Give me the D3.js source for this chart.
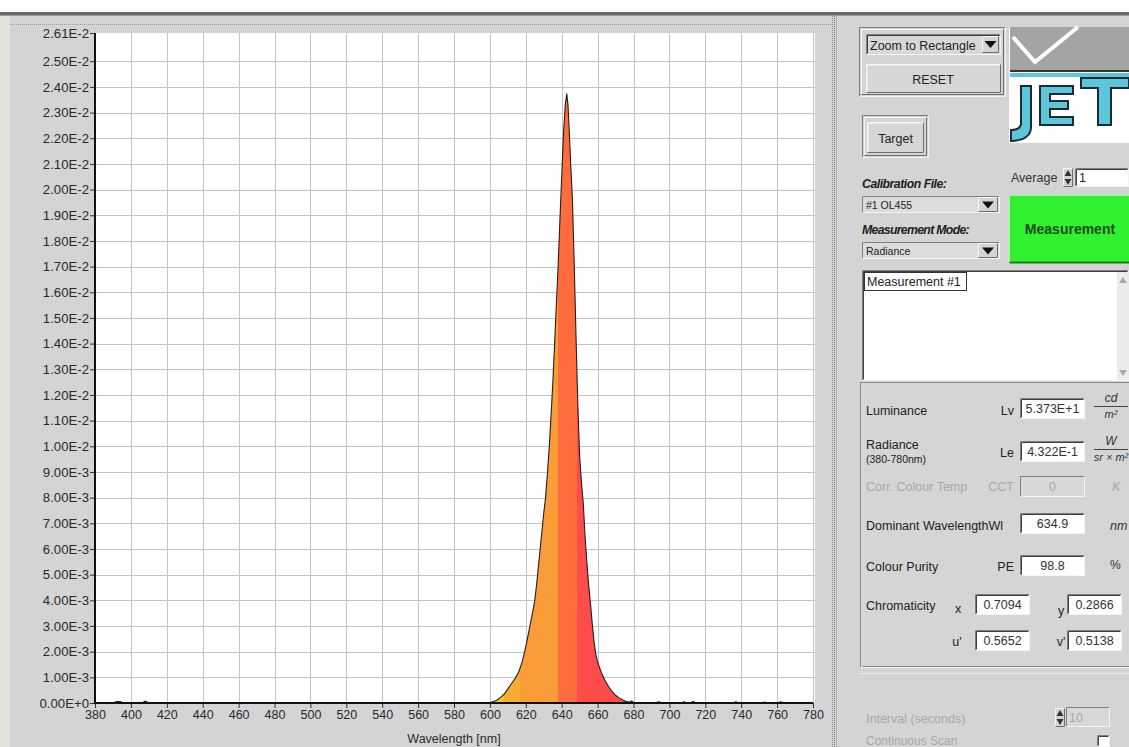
<!DOCTYPE html>
<html><head><meta charset="utf-8">
<script src="https://cdn.jsdelivr.net/npm/d3@7"></script>
<style>
body{margin:0;background:#d4d4d4;overflow:hidden}
svg{display:block}
text{font-family:"Liberation Sans",Arial,sans-serif}
</style>
</head><body>
<svg id="c" width="1129" height="747"></svg>
<script>
// ---- DATA ----
const wavelengths = [380,390,392,394,396,406,408,410,420,500,596,598,600,602,604,606,608,610,612,614,616,618,620,622,624,625,626,628,630,631,632,633,634,635,636,637,638,639,640,641,642,642.8,643.5,644.2,645,646,647,648,649,650,651,652,653,654,655,656,657,658,659,660,662,664,666,668,670,672,674,676,678,679,680,682,692,694,696,706,708,710,712,713,715,735,737,739,751,753,755,760,762,764,780];
const radiance = [0,0,0.00006,0.00006,0,0,0.00007,0,0,0,0,0,0.00002,0.00006,0.00012,0.00022,0.00035,0.00055,0.00075,0.00095,0.0012,0.0016,0.0022,0.0029,0.0036,0.0040,0.0046,0.0060,0.0074,0.0080,0.0089,0.0099,0.0111,0.0124,0.0139,0.0155,0.0170,0.0188,0.0205,0.0222,0.0233,0.02374,0.0233,0.0223,0.0210,0.0196,0.0170,0.0142,0.0116,0.0096,0.0086,0.0078,0.0065,0.0055,0.0046,0.0039,0.0031,0.0024,0.0019,0.0016,0.0012,0.0009,0.00065,0.00045,0.0003,0.0002,0.00012,0.00006,0.00004,0.00008,0.00002,0,0,0.00005,0,0,0.00005,0,0,0.00006,0,0,0.00005,0,0,0.00004,0,0,0.00005,0,0];
const xTicks = [380,400,420,440,460,480,500,520,540,560,580,600,620,640,660,680,700,720,740,760,780];
const yTicks = [0,0.001,0.002,0.003,0.004,0.005,0.006,0.007,0.008,0.009,0.010,0.011,0.012,0.013,0.014,0.015,0.016,0.017,0.018,0.019,0.020,0.021,0.022,0.023,0.024,0.025,0.0261];
const yTickLabels = ["0.00E+0","1.00E-3","2.00E-3","3.00E-3","4.00E-3","5.00E-3","6.00E-3","7.00E-3","8.00E-3","9.00E-3","1.00E-2","1.10E-2","1.20E-2","1.30E-2","1.40E-2","1.50E-2","1.60E-2","1.70E-2","1.80E-2","1.90E-2","2.00E-2","2.10E-2","2.20E-2","2.30E-2","2.40E-2","2.50E-2","2.61E-2"];
const bandEdges = [380,608,617,638,648.5,780];
const bandColors = ["#f5c42e","#f8ad32","#fa9c38","#ff6d3e","#fd4d4b"];

const svg = d3.select("#c");
const G = "#d4d4d4";
svg.append("rect").attr("width",1129).attr("height",747).attr("fill",G);
svg.append("rect").attr("width",1129).attr("height",12).attr("fill","#ffffff");
svg.append("rect").attr("y",12).attr("width",1129).attr("height",3).attr("fill","#6a6a6a");
svg.append("rect").attr("y",15).attr("width",1129).attr("height",1).attr("fill","#9a9a9a");
svg.append("rect").attr("x",0).attr("y",16).attr("width",10).attr("height",731).attr("fill","#e3e3dc");
svg.append("line").attr("x1",10).attr("x2",832).attr("y1",24.5).attr("y2",24.5).attr("stroke","#9c9c9c").attr("stroke-dasharray","1,1");
svg.append("line").attr("x1",832.5).attr("x2",832.5).attr("y1",16).attr("y2",747).attr("stroke","#8a8a8a").attr("stroke-dasharray","1,1");
svg.append("line").attr("x1",834.5).attr("x2",834.5).attr("y1",16).attr("y2",747).attr("stroke","#7a7a7a").attr("stroke-dasharray","1,1");
svg.append("line").attr("x1",836.5).attr("x2",836.5).attr("y1",16).attr("y2",747).attr("stroke","#b0b0b0").attr("stroke-width",1);

// ---- CHART ----
const x = d3.scaleLinear().domain([380,780]).range([95,813]);
const y = d3.scaleLinear().domain([0,0.0261]).range([703,33]);
svg.append("rect").attr("x",95).attr("y",33).attr("width",720).attr("height",670).attr("fill","#fff");

const grid = svg.append("g").attr("stroke","#c4c4c4").attr("stroke-width",1);
xTicks.slice(1).forEach(t=>grid.append("line").attr("x1",Math.round(x(t))+0.5).attr("x2",Math.round(x(t))+0.5).attr("y1",33).attr("y2",703));
yTicks.slice(1,-1).forEach(t=>grid.append("line").attr("x1",95).attr("x2",815).attr("y1",Math.round(y(t))+0.5).attr("y2",Math.round(y(t))+0.5));

const data = wavelengths.map((w,i)=>({w, v: radiance[i]}));
const defs = svg.append("defs");
const grad = defs.append("linearGradient").attr("id","spec").attr("gradientUnits","userSpaceOnUse")
  .attr("x1",x(380)).attr("x2",x(780)).attr("y1",0).attr("y2",0);
bandColors.forEach((c,i)=>{
  const o1=(bandEdges[i]-380)/400, o2=(bandEdges[i+1]-380)/400;
  grad.append("stop").attr("offset",o1).attr("stop-color",c);
  grad.append("stop").attr("offset",o2).attr("stop-color",c);
});
const area = d3.area().x(d=>x(d.w)).y0(y(0)).y1(d=>y(d.v));
svg.append("path").datum(data).attr("d",area).attr("fill","url(#spec)");
const line = d3.line().x(d=>x(d.w)).y(d=>y(d.v));
svg.append("path").datum(data).attr("d",line).attr("fill","none").attr("stroke","#2a1c1c").attr("stroke-width",1.1);

// axes
const yAxis = d3.axisLeft(y).tickValues(yTicks).tickFormat((d,i)=>yTickLabels[i]).tickSize(5).tickPadding(1);
const ya = svg.append("g").attr("transform","translate(95,0)").call(yAxis);
const xAxis = d3.axisBottom(x).tickValues(xTicks).tickFormat(d=>d).tickSize(5).tickPadding(2);
const xa = svg.append("g").attr("transform","translate(0,703)").call(xAxis);
[ya,xa].forEach(a=>{
  a.select(".domain").remove();
  a.selectAll("text").attr("font-size",12.5).attr("fill","#2a2a2a").attr("font-family","Liberation Sans, Arial, sans-serif");
  a.selectAll("line").attr("stroke","#333");
});
ya.selectAll("text").attr("font-size",13.2);
svg.append("line").attr("x1",95).attr("x2",95).attr("y1",33).attr("y2",704).attr("stroke","#111").attr("stroke-width",2);
svg.append("line").attr("x1",94).attr("x2",813).attr("y1",703).attr("y2",703).attr("stroke","#111").attr("stroke-width",2);
svg.append("text").attr("x",454).attr("y",743).attr("text-anchor","middle").attr("font-size",12.5).attr("fill","#2a2a2a").text("Wavelength [nm]");

// ---- UI PANEL ----
function box(x0,y0,w,h,fill,raised,dark){
  const g=svg.append("g");
  g.append("rect").attr("x",x0).attr("y",y0).attr("width",w).attr("height",h).attr("fill",fill);
  const tl = raised? "#f6f6f6":"#7e7e7e", br = raised? "#6e6e6e":"#f4f4f4";
  g.append("path").attr("d",`M${x0+0.5},${y0+h-0.5}V${y0+0.5}H${x0+w-0.5}`).attr("stroke",tl).attr("fill","none");
  g.append("path").attr("d",`M${x0+w-0.5},${y0+0.5}V${y0+h-0.5}H${x0+0.5}`).attr("stroke",br).attr("fill","none");
  if(dark){
    g.append("path").attr("d",`M${x0+1.5},${y0+h-1.5}V${y0+1.5}H${x0+w-1.5}`).attr("stroke",raised?"#e8e8e8":"#404040").attr("fill","none");
  }
  return g;
}
function txt(x0,y0,s,opt={}){
  const t=svg.append("text").attr("x",x0).attr("y",y0).attr("font-size",opt.size||12.5).attr("fill",opt.color||"#222").text(s);
  if(opt.anchor) t.attr("text-anchor",opt.anchor);
  if(opt.weight) t.attr("font-weight",opt.weight);
  if(opt.style) t.attr("font-style",opt.style);
  if(opt.family) t.attr("font-family",opt.family);
  if(opt.ls) t.attr("letter-spacing",opt.ls);
  return t;
}
function arrowDown(cx,cy,s){
  svg.append("path").attr("d",`M${cx-s},${cy-s/2}H${cx+s}L${cx},${cy+s/2+1}Z`).attr("fill","#111");
}
function spinner(x0,y0,h){
  box(x0,y0,10,h,"#d4d4d4",true);
  svg.append("path").attr("d",`M${x0+1.5},${y0+h/2-1.5}H${x0+8.5}L${x0+5},${y0+2}Z`).attr("fill","#333");
  svg.append("path").attr("d",`M${x0+1.5},${y0+h/2+1.5}H${x0+8.5}L${x0+5},${y0+h-2}Z`).attr("fill","#333");
}

// group 1
box(859,27,147,70,G,false);
box(861,29,143,66,G,true);
box(866,34,135,21,"#d8d8d8",false,true);
txt(870,50,"Zoom to Rectangle",{size:12.5});
box(982,36,17,17,"#d4d4d4",true);
arrowDown(990.5,44,6);
box(866,64,135,29,"#d6d6d6",true,true);
txt(933,84,"RESET",{anchor:"middle",size:12.5});

// logo
svg.append("rect").attr("x",1009).attr("y",27).attr("width",120).attr("height",116).attr("fill","#fff");
svg.append("rect").attr("x",1010).attr("y",27).attr("width",119).attr("height",43).attr("fill","#a4a4a4");
svg.append("path").attr("d","M1013,37L1035,62L1078,27").attr("stroke","#fff").attr("stroke-width",4).attr("fill","none");
svg.append("rect").attr("x",1010).attr("y",70).attr("width",119).attr("height",2).attr("fill","#333");
svg.append("rect").attr("x",1010).attr("y",73).attr("width",119).attr("height",4).attr("fill","#5cc7da");
const lc="#5cc7da", ls="#1e2a33";
svg.append("path").attr("d","M1021,86H1031V128Q1030,140 1012,141H1011V130Q1020,130 1021,124Z").attr("fill",lc).attr("stroke",ls).attr("stroke-width",2);
svg.append("path").attr("d","M1040,86H1073V94H1050V101H1068V109H1050V117H1073V125H1040Z").attr("fill",lc).attr("stroke",ls).attr("stroke-width",2);
svg.append("path").attr("d","M1081,78H1129V88H1111V125H1098V88H1081Z").attr("fill",lc).attr("stroke",ls).attr("stroke-width",2);

// target
box(862,115,67,43,G,false);
box(864,117,63,39,G,true);
box(867,122,57,31,"#d6d6d6",true,true);
txt(895.5,143,"Target",{anchor:"middle",size:12.5});

// average
txt(1011,182,"Average",{size:12.5,color:"#333"});
spinner(1063,168,19);
box(1075,168,54,19,"#fff",false,true);
txt(1079,182,"1",{size:12.5});

// calibration
txt(862,188,"Calibration File:",{size:12.3,weight:"bold",style:"italic",ls:"-0.5"});
box(862,196,138,17,"#dcdcdc",false);
txt(866,209,"#1  OL455",{size:10.5});
box(978,197,20,15,"#d4d4d4",true);
arrowDown(988,204.5,6);
txt(862,234,"Measurement Mode:",{size:12.3,weight:"bold",style:"italic",ls:"-0.7"});
box(862,242,138,17,"#dcdcdc",false);
txt(866,255,"Radiance",{size:10.5});
box(978,243,20,15,"#d4d4d4",true);
arrowDown(988,250.5,6);

// green button
svg.append("rect").attr("x",1009).attr("y",195).attr("width",120).attr("height",68).attr("fill","#30f030");
svg.append("path").attr("d","M1009.5,262.5V195.5H1129").attr("stroke","#9cff9c").attr("fill","none");
svg.append("path").attr("d","M1009.5,262.5H1129").attr("stroke","#1c7a1c").attr("stroke-width",2).attr("fill","none");
txt(1070,234,"Measurement",{anchor:"middle",size:14,weight:"bold",color:"#1d4a1d"});

// text area
box(862,270,267,111,"#fff",false,true);
svg.append("rect").attr("x",864.5).attr("y",272.5).attr("width",102).attr("height",18).attr("fill","#fff").attr("stroke","#333");
txt(867,286,"Measurement #1",{size:12.5});
svg.append("rect").attr("x",1117).attr("y",272).attr("width",12).attr("height",108).attr("fill","#ececec");
svg.append("path").attr("d","M1119,283H1127L1123,277Z").attr("fill","#aaa");
svg.append("path").attr("d","M1119,370H1127L1123,376Z").attr("fill","#aaa");

// results group
svg.append("rect").attr("x",860.5).attr("y",382.5).attr("width",270).attr("height",284).attr("fill","none").attr("stroke","#8a8a8a");
svg.append("rect").attr("x",861.5).attr("y",383.5).attr("width",270).attr("height",284).attr("fill","none").attr("stroke","#f2f2f2");
svg.append("rect").attr("x",861).attr("y",383).attr("width",268).attr("height",283).attr("fill","#d5d5d5");

function field(x0,y0,w,val,opt={}){
  box(x0,y0,w,21,opt.fill||"#fff",false,!opt.disabled);
  txt(x0+w/2,y0+15,val,{anchor:"middle",size:12.5,color:opt.disabled?"#a8a8a8":"#333"});
}
function frac(cx,ytop,num,den){
  txt(cx,ytop,num,{anchor:"middle",size:12,style:"italic",family:"Liberation Serif, serif",color:"#333"});
  svg.append("line").attr("x1",cx-17).attr("x2",cx+17).attr("y1",ytop+4.5).attr("y2",ytop+4.5).attr("stroke","#444");
  txt(cx,ytop+16,den,{anchor:"middle",size:11,style:"italic",family:"Liberation Serif, serif",color:"#333"});
}
txt(866,415,"Luminance");
txt(1014,415,"Lv",{anchor:"end"});
field(1020,398,65,"5.373E+1");
frac(1111,402,"cd","m²");
txt(866,449,"Radiance");
txt(866,463,"(380-780nm)",{size:10.5});
txt(1014,457,"Le",{anchor:"end"});
field(1020,441,65,"4.322E-1");
frac(1111,445,"W","sr × m²");
txt(866,491,"Corr. Colour Temp",{color:"#a8a8a8"});
txt(1014,491,"CCT",{anchor:"end",color:"#a8a8a8"});
field(1020,476,65,"0",{disabled:true,fill:"#d8d8d8"});
txt(1112,491,"K",{style:"italic",family:"Liberation Serif, serif",color:"#a8a8a8"});
txt(866,530,"Dominant WavelengthWl");
field(1020,513,65,"634.9");
txt(1110,530,"nm",{style:"italic",family:"Liberation Serif, serif",color:"#333"});
txt(866,571,"Colour Purity");
txt(1014,571,"PE",{anchor:"end"});
field(1020,555,65,"98.8");
txt(1110,569,"%",{family:"Liberation Serif, serif",color:"#333",size:12});
txt(866,610,"Chromaticity");
txt(958,613,"x",{anchor:"middle"});
field(975,594,55,"0.7094");
txt(1061,615,"y",{anchor:"middle"});
field(1067,594,55,"0.2866");
txt(957,646,"u'",{anchor:"middle"});
field(975,630,55,"0.5652");
txt(1061,646,"v'",{anchor:"middle"});
field(1067,630,55,"0.5138");

// bottom section
svg.append("line").attr("x1",860).attr("x2",1129).attr("y1",673.5).attr("y2",673.5).attr("stroke","#ececec");
txt(866,723,"Interval  (seconds)",{color:"#a8a8a8"});
spinner(1055,708,19);
box(1066,707,44,20,"#d8d8d8",false);
txt(1069,722,"10",{color:"#a8a8a8"});
txt(866,745,"Continuous Scan",{color:"#a8a8a8",size:12});
box(1097,735,13,12,"#fff",false,true);
</script>
</body></html>
